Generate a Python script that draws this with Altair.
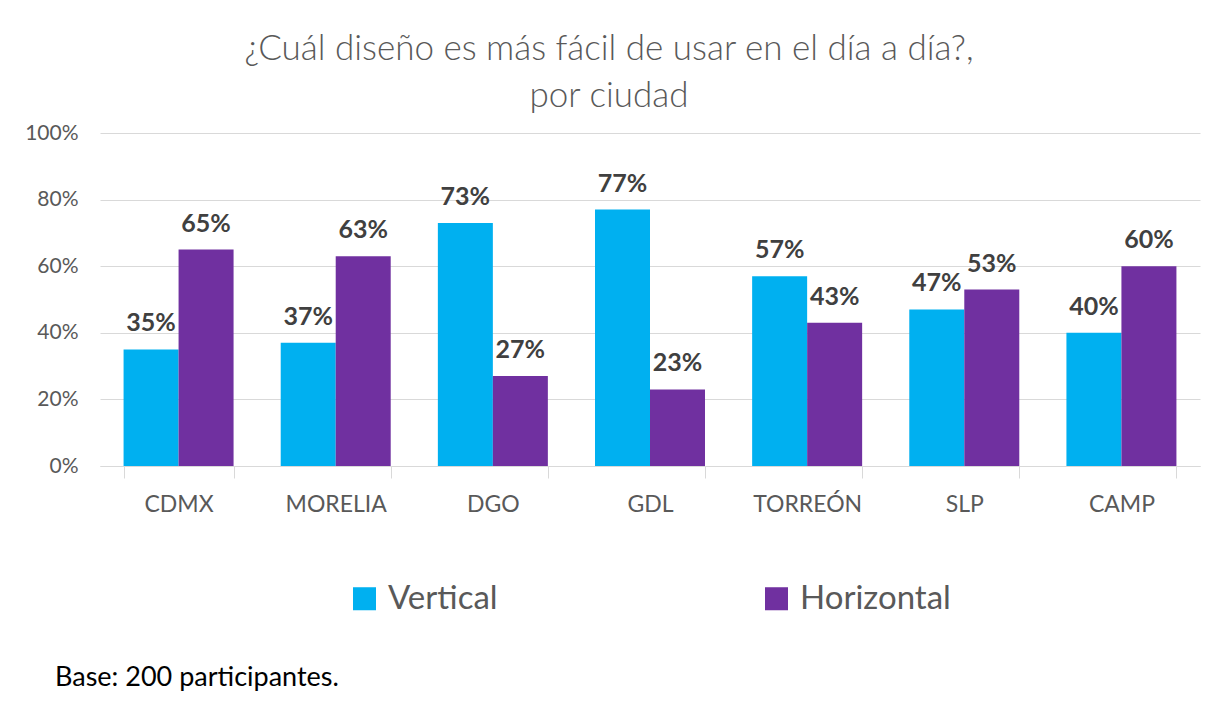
import altair as alt
import pandas as pd

cities = ["CDMX", "MORELIA", "DGO", "GDL", "TORREÓN", "SLP", "CAMP"]
series = ["Vertical", "Horizontal"]
vertical = [0.35, 0.37, 0.73, 0.77, 0.57, 0.47, 0.40]
horizontal = [0.65, 0.63, 0.27, 0.23, 0.43, 0.53, 0.60]
colors = ["#00B0F0", "#7030A0"]
title_lines = ["¿Cuál diseño es más fácil de usar en el día a día?,", "por ciudad"]
footnote = "Base: 200 participantes."

rows = []
for c, v, h in zip(cities, vertical, horizontal):
    rows.append({"city": c, "series": "Vertical", "value": v})
    rows.append({"city": c, "series": "Horizontal", "value": h})
df = pd.DataFrame(rows)

FONT = "Lato"
GRAY = "#595959"

x = alt.X("city:N", sort=cities, title=None,
          scale=alt.Scale(paddingInner=0.3, paddingOuter=0.15),
          axis=alt.Axis(labelAngle=0, labelFontSize=23, labelColor=GRAY, labelFont=FONT,
                        labelPadding=15, tickBand="extent", tickSize=12, tickColor="#d9d9d9",
                        domainColor="#d9d9d9", grid=False))
xoff = alt.XOffset("series:N", sort=series)
y = alt.Y("value:Q", title=None,
          scale=alt.Scale(domain=[0, 1]),
          axis=alt.Axis(format=".0%", values=[0, 0.2, 0.4, 0.6, 0.8, 1.0], labelFontSize=21,
                        labelColor=GRAY, labelFont=FONT, labelPadding=22, domain=False,
                        ticks=False, gridColor="#d9d9d9"))
color = alt.Color("series:N", sort=series,
                  scale=alt.Scale(domain=series, range=colors),
                  legend=alt.Legend(title=None, orient="none", legendX=248, legendY=449,
                                    direction="horizontal", symbolType="square", symbolSize=530,
                                    symbolStrokeWidth=0, labelFontSize=33, labelFont=FONT,
                                    labelColor=GRAY, labelOffset=7, columnPadding=262,
                                    padding=0))

bars = alt.Chart(df).mark_bar(size=55).encode(x=x, xOffset=xoff, y=y, color=color)

labels = alt.Chart(df).mark_text(baseline="bottom", dy=-13, fontSize=25, fontWeight="bold",
                                 font=FONT, color="#404040").encode(
    x=x, xOffset=xoff, y=y, text=alt.Text("value:Q", format=".0%"))

foot = alt.Chart(pd.DataFrame({"t": [footnote]})).mark_text(
    align="left", baseline="middle", fontSize=27, font=FONT, color="#000000").encode(
    x=alt.value(-45), y=alt.value(545), text="t:N")

chart = alt.layer(bars, labels, foot).properties(
    width=1100, height=333,
    autosize=alt.AutoSizeParams(type="none"),
    padding={"left": 92, "top": 125, "right": 5, "bottom": 230},
    title=alt.TitleParams(text=title_lines, fontSize=35, font=FONT, fontWeight=300,
                          color=GRAY, anchor="middle", dx=-41, offset=8, lineHeight=47),
).configure(background="white").configure_view(stroke=None)

chart.save("out.html", embed_options={"renderer": "svg", "actions": False})
